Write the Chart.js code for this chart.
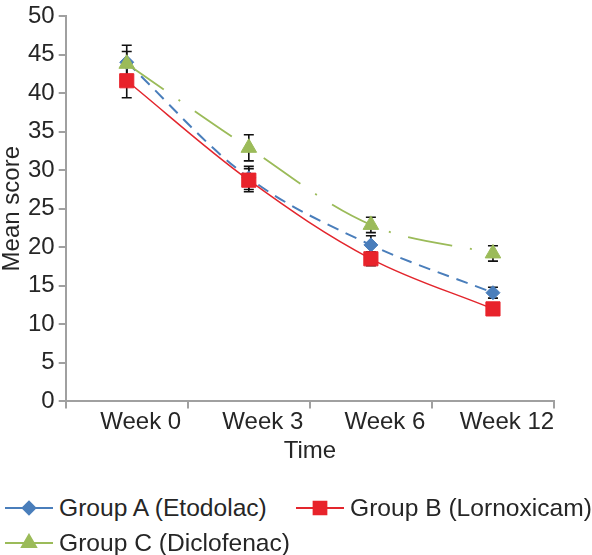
<!DOCTYPE html>
<html>
<head>
<meta charset="utf-8">
<script src="https://cdn.jsdelivr.net/npm/chart.js@4"></script>
<style>
  body { margin: 0; background: #fff; font-family: 'Liberation Sans', Arial, sans-serif; }
  #wrap { position: relative; width: 592px; height: 555px; }
  #plot { position: absolute; left: 0; top: 0; width: 592px; height: 470px; }
  #legend { position: absolute; left: 5px; top: 490px; font-size: 24.6px; color: #262626; }
  .row { display: flex; height: 35px; align-items: center; }
  .item { display: flex; align-items: center; white-space: nowrap; }
  .item canvas { margin-right: 6px; }
  .item.first { width: 291px; }
</style>
</head>
<body>
<div id="wrap">
  <div id="plot"><canvas id="scoreChart"></canvas></div>
  <div id="legend"></div>
</div>
<script>
// categories and series
const weeks = ['Week 0', 'Week 3', 'Week 6', 'Week 12'];
const groupNames = ['Group A (Etodolac)', 'Group B (Lornoxicam)', 'Group C (Diclofenac)'];
const groupA = [44.0, 29.0, 20.3, 14.1];
const groupB = [41.6, 28.7, 18.5, 12.0];
const groupC = [43.8, 32.9, 22.9, 19.2];
const sdA = [2.2, 1.5, 1.2, 0.7];
const sdB = [2.2, 1.5, 0.9, 0.5];
const sdC = [1.6, 1.7, 1.0, 1.0];
const yMin = 0, yMax = 50, yStep = 5;

const axisGrey = '#a0a0a0';
const textCol = '#262626';
const fontFam = "'Liberation Sans', Arial, sans-serif";

const styles = [
  { color: '#4a7ebb', fill: '#4a7ebb', point: 'rectRot', radius: 7, dash: [12, 8], width: 2 },
  { color: '#e3262d', fill: '#e8232b', point: 'rect', radius: 10, dash: [], width: 1.5 },
  { color: '#9bbb59', fill: '#9bbb59', point: 'triangle', radius: 9, dash: [45, 18, 2, 18], width: 1.8 }
];
const series = [groupA, groupB, groupC];
const errors = [sdA, sdB, sdC];
const drawOrder = [2, 0, 1]; // B on top, then C, then A

// error bars drawn under the markers
const errorBars = {
  id: 'errorBars',
  beforeDatasetsDraw(chart) {
    const ctx = chart.ctx, y = chart.scales.y;
    ctx.save();
    ctx.strokeStyle = '#111';
    ctx.lineWidth = 1.6;
    chart.data.datasets.forEach((ds, i) => {
      const meta = chart.getDatasetMeta(i);
      meta.data.forEach((pt, j) => {
        const top = y.getPixelForValue(ds.data[j] + errors[i][j]);
        const bot = y.getPixelForValue(ds.data[j] - errors[i][j]);
        ctx.beginPath();
        ctx.moveTo(pt.x, top); ctx.lineTo(pt.x, bot);
        ctx.moveTo(pt.x - 5, top); ctx.lineTo(pt.x + 5, top);
        ctx.moveTo(pt.x - 5, bot); ctx.lineTo(pt.x + 5, bot);
        ctx.stroke();
      });
    });
    ctx.restore();
  }
};

new Chart(document.getElementById('scoreChart'), {
  type: 'line',
  data: {
    labels: weeks,
    datasets: series.map((d, i) => ({
      label: groupNames[i],
      data: d,
      order: drawOrder[i],
      borderColor: styles[i].color,
      borderWidth: styles[i].width,
      borderDash: styles[i].dash,
      tension: 0.35,
      pointStyle: styles[i].point,
      pointRadius: styles[i].radius,
      pointBackgroundColor: styles[i].fill,
      pointBorderColor: styles[i].fill,
      pointBorderWidth: 1
    }))
  },
  options: {
    responsive: true, maintainAspectRatio: false,
    animation: false,
    layout: { padding: { top: 0, right: 38, left: 0, bottom: 0 } },
    plugins: { legend: { display: false }, tooltip: { enabled: false } },
    scales: {
      x: {
        offset: true,
        grid: { offset: true, drawOnChartArea: false, tickLength: 7, color: axisGrey, lineWidth: 2 },
        border: { color: axisGrey, width: 2 },
        ticks: { color: textCol, font: { size: 24, family: fontFam }, padding: 0, labelOffset: 14, maxRotation: 0 },
        title: { display: true, text: 'Time', color: textCol, font: { size: 24, family: fontFam }, padding: { top: 0, bottom: 4 } }
      },
      y: {
        min: yMin, max: yMax,
        grid: { drawOnChartArea: false, tickLength: 7, color: axisGrey, lineWidth: 2 },
        border: { color: axisGrey, width: 2 },
        ticks: { stepSize: yStep, color: textCol, padding: 4, font: { size: 24, lineHeight: 1, family: fontFam } },
        title: { display: true, text: 'Mean score', color: textCol, font: { size: 24, lineHeight: 1, family: fontFam }, padding: { top: 0, bottom: 0 } }
      }
    }
  },
  plugins: [errorBars]
});

// legend: line sample with marker, then label
const legendRows = [[0, 1], [2]];
const legendEl = document.getElementById('legend');
legendRows.forEach(row => {
  const rowEl = document.createElement('div');
  rowEl.className = 'row';
  row.forEach((i, k) => {
    const item = document.createElement('div');
    item.className = 'item' + (k === 0 && row.length > 1 ? ' first' : '');
    const cv = document.createElement('canvas');
    cv.width = 48; cv.height = 20;
    const c = cv.getContext('2d');
    c.strokeStyle = styles[i].color;
    c.lineWidth = 2;
    c.beginPath(); c.moveTo(0, 10); c.lineTo(48, 10); c.stroke();
    c.fillStyle = styles[i].fill;
    c.strokeStyle = styles[i].fill;
    Chart.helpers.drawPoint(c, { pointStyle: styles[i].point, radius: styles[i].radius * 0.9, rotation: 0, borderWidth: 1 }, 24, 10);
    item.appendChild(cv);
    const span = document.createElement('span');
    span.textContent = groupNames[i];
    item.appendChild(span);
    rowEl.appendChild(item);
  });
  legendEl.appendChild(rowEl);
});
</script>
</body>
</html>
